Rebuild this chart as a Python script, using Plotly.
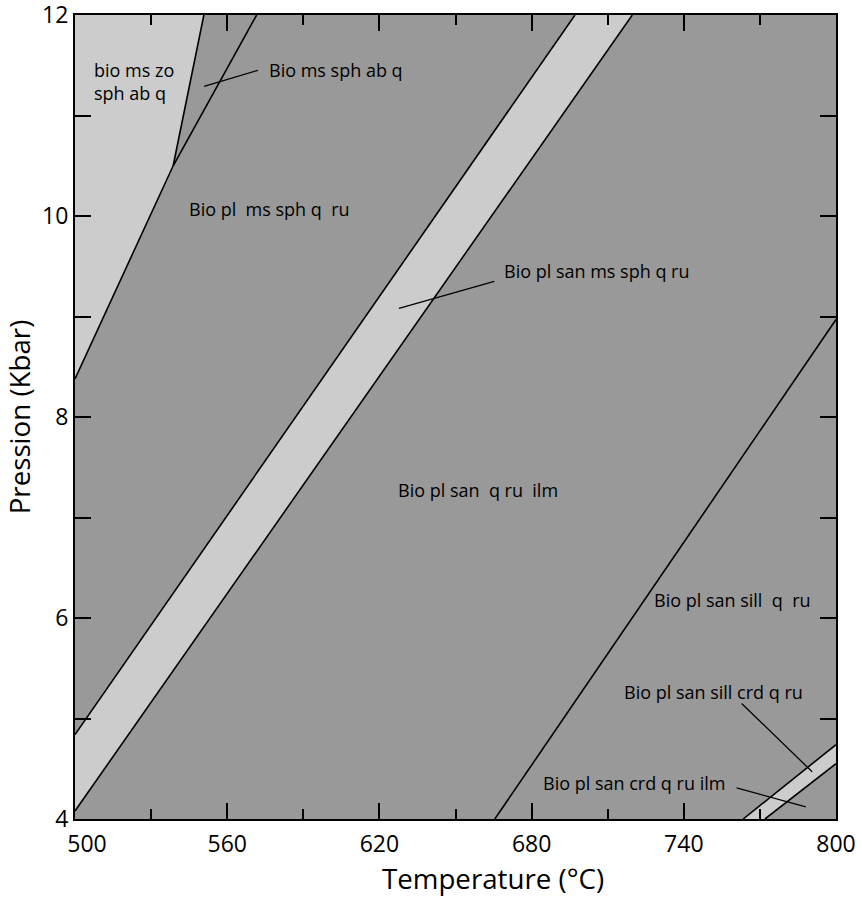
import plotly.graph_objects as go

# ---- axis ranges / ticks ----
T_RANGE = [500, 800]
P_RANGE = [4, 12]
x_tickvals = [500, 560, 620, 680, 740, 800]
x_ticktext = ["\u00a0\u00a0\u00a0\u00a0500", "560", "620", "680", "740", "800"]
y_tickvals = [4, 6, 8, 10, 12]
y_ticktext = ["4", "6", "8", "10", "12"]

# ---- phase boundaries (T in °C, P in kbar) ----
line1_T = [550.8, 538.7]
line1_P = [12.0, 10.5]
line2_T = [500.0, 538.7, 571.6]
line2_P = [8.38, 10.5, 12.0]
bandA_T = [500.0, 697.1]
bandA_P = [4.84, 12.0]
bandB_T = [500.0, 719.7]
bandB_P = [4.08, 12.0]
sill_T = [665.5, 800.0]
sill_P = [4.0, 8.97]
crdA_T = [763.4, 800.0]
crdA_P = [4.0, 4.74]
crdB_T = [772.0, 800.0]
crdB_P = [4.0, 4.55]

# ---- leader lines ----
leader_T = [[550.9, 572.1], [627.7, 665.3], [762.8, 790.6], [760.8, 788.1]]
leader_P = [[11.29, 11.45], [9.08, 9.35], [5.15, 4.47], [4.31, 4.12]]

# ---- field labels ----
label_text = ["bio ms zo<br>sph ab q", "Bio ms sph ab q", "Bio pl  ms sph q  ru",
              "Bio pl san ms sph q ru", "Bio pl san  q ru  ilm", "Bio pl san sill  q  ru",
              "Bio pl san sill crd q ru", "Bio pl san crd q ru ilm"]
label_T = [507.1, 576.1, 544.5, 668.7, 626.9, 727.8, 716.0, 684.1]
label_P = [11.34, 11.45, 10.07, 9.45, 7.27, 6.18, 5.26, 4.36]

DARK = "#999999"
LIGHT = "#cccccc"
FONT = "Open Sans"

fig = go.Figure()

# light fields
poly1_x = [T_RANGE[0]] + line1_T + [line2_T[0]]
poly1_y = [P_RANGE[1]] + line1_P + [line2_P[0]]
poly2_x = bandA_T + bandB_T[::-1]
poly2_y = bandA_P + bandB_P[::-1]
poly3_x = crdA_T + crdB_T[::-1]
poly3_y = crdA_P + crdB_P[::-1]
for px, py in [(poly1_x, poly1_y), (poly2_x, poly2_y), (poly3_x, poly3_y)]:
    fig.add_trace(go.Scatter(x=px, y=py, mode="lines", fill="toself", fillcolor=LIGHT,
                             line=dict(width=0, color=LIGHT), hoverinfo="skip", showlegend=False))

# boundary lines
for lx, ly in [(line1_T, line1_P), (line2_T, line2_P), (bandA_T, bandA_P), (bandB_T, bandB_P),
               (sill_T, sill_P), (crdA_T, crdA_P), (crdB_T, crdB_P)]:
    fig.add_trace(go.Scatter(x=lx, y=ly, mode="lines", line=dict(color="black", width=1.6),
                             hoverinfo="skip", showlegend=False))

for lx, ly in zip(leader_T, leader_P):
    fig.add_trace(go.Scatter(x=lx, y=ly, mode="lines", line=dict(color="black", width=1.3),
                             hoverinfo="skip", showlegend=False))

for t, x, y in zip(label_text, label_T, label_P):
    fig.add_annotation(x=x, y=y, text=t, showarrow=False, xanchor="left", yanchor="middle",
                       align="left", font=dict(family=FONT, size=18, color="black"),
                       borderpad=0)

fig.add_annotation(x=0.549, y=-0.073, xref="paper", yref="paper", text="Temperature (°C)",
                   showarrow=False, xanchor="center", yanchor="middle",
                   font=dict(family=FONT, size=27.7, color="black"))

fig.update_layout(
    width=862, height=897,
    margin=dict(l=75, r=26, t=15, b=78),
    paper_bgcolor="white", plot_bgcolor=DARK,
    font=dict(family=FONT, color="black"),
    xaxis=dict(range=T_RANGE, tickmode="array", tickvals=x_tickvals, ticktext=x_ticktext,
               ticks="inside", ticklen=16, tickwidth=1.5, tickcolor="black",
               minor=dict(ticks="inside", ticklen=10, dtick=30, tick0=500, tickwidth=1.5, tickcolor="black"),
               showline=True, linewidth=2, linecolor="black", mirror="ticks",
               showgrid=False, zeroline=False, tickfont=dict(size=23, family=FONT),
               ticklabelstandoff=3, automargin=False, ticklabeloverflow="allow"),
    yaxis=dict(range=P_RANGE, tickmode="array", tickvals=y_tickvals, ticktext=y_ticktext,
               ticks="inside", ticklen=16, tickwidth=1.5, tickcolor="black",
               minor=dict(ticks="inside", ticklen=16, dtick=1, tick0=4, tickwidth=1.5, tickcolor="black"),
               showline=True, linewidth=2, linecolor="black", mirror="ticks",
               showgrid=False, zeroline=False, tickfont=dict(size=23, family=FONT),
               ticklabelstandoff=0, automargin=False, ticklabeloverflow="allow",
               title=dict(text="Pression (Kbar)", font=dict(size=27.7, family=FONT), standoff=4)),
)

fig.write_html("out.html", config={"displayModeBar": False},
               post_script="document.body.style.margin='0';")
